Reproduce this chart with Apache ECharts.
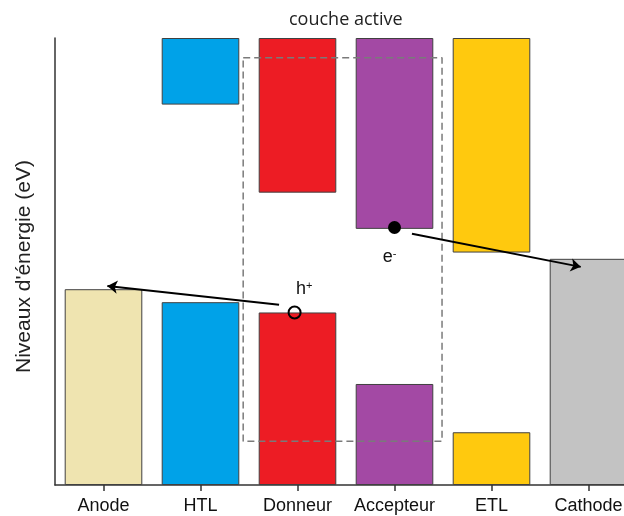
<!DOCTYPE html>
<html>
<head>
<meta charset="utf-8">
<script src="https://cdn.jsdelivr.net/npm/echarts@6/dist/echarts.min.js"></script>
<style>
html, body { margin: 0; padding: 0; background: #fff; }
#chart { width: 624px; height: 516px; }
</style>
</head>
<body>
<div id="chart"></div>
<script>
const categories = ['Anode', 'HTL', 'Donneur', 'Accepteur', 'ETL', 'Cathode'];
const colors = ['#EFE4B0', '#00A2E8', '#ED1C24', '#A349A4', '#FFC90E', '#C3C3C3'];
// niveau bas (HOMO / travail de sortie), en unités arbitraires
const niveauBas = [43.8, 40.9, 38.6, 22.6, 11.8, 50.6];
// niveau haut (LUMO) : la bande monte jusqu'en haut de l'axe
const niveauHaut = [null, 85.1, 65.4, 57.3, 52.0, null];
const yMax = 100;

// annotations, x en index de catégorie (0 = Anode)
const coucheActive = [[1.44, 95.6], [3.49, 95.6], [3.49, 9.8], [1.44, 9.8], [1.44, 95.6]];
const flecheTrou = [[1.81, 40.3], [0.04, 44.5]];
const flecheElectron = [[3.18, 56.2], [4.92, 48.8]];
const trou = [[1.97, 38.6]];
const electron = [[3.0, 57.6]];
const etiquettes = [
    { name: '{t|h}{s|+}', value: [2.07, 43.8] },
    { name: '{t|e}{s|-}', value: [2.95, 51.0] }
];

const myChart = echarts.init(document.getElementById('chart'));

const barColor = (p) => colors[p.dataIndex];

const option = {
    animation: false,
    title: {
        text: 'couche active',
        left: 284,
        top: 6,
        textStyle: {
            fontFamily: 'Open Sans',
            fontSize: 18,
            fontWeight: 'normal',
            color: '#222'
        }
    },
    grid: {
        left: 55,
        top: 38,
        width: 582,
        height: 447,
        outerBoundsMode: 'none'
    },
    xAxis: [
        {
            type: 'category',
            data: categories,
            axisLine: { show: true, lineStyle: { color: '#333', width: 1.5 } },
            axisTick: { show: true, alignWithLabel: true, interval: 0, length: 6, lineStyle: { color: '#333', width: 1.5 } },
            axisLabel: {
                interval: 0,
                fontFamily: 'Liberation Sans',
                fontSize: 18,
                color: '#111',
                margin: 12
            },
            splitLine: { show: false }
        },
        {
            type: 'value',
            min: -0.5,
            max: 5.5,
            show: false
        }
    ],
    yAxis: {
        type: 'value',
        min: 0,
        max: yMax,
        name: "Niveaux d'énergie (eV)",
        nameLocation: 'middle',
        nameGap: 20,
        nameTextStyle: {
            fontFamily: 'Liberation Sans',
            fontSize: 21,
            color: '#222',
            padding: [0, 10, 0, 0]
        },
        axisLine: { show: true, onZero: false, lineStyle: { color: '#333', width: 1.5 } },
        axisTick: { show: false },
        axisLabel: { show: false },
        splitLine: { show: false }
    },
    series: [
        {
            name: 'bas',
            type: 'bar',
            barCategoryGap: '20%',
            barGap: '-100%',
            itemStyle: { color: barColor, borderColor: '#404040', borderWidth: 1 },
            data: niveauBas
        },
        {
            name: 'base',
            type: 'bar',
            stack: 'haut',
            barGap: '-100%',
            itemStyle: { color: 'transparent' },
            data: niveauHaut
        },
        {
            name: 'haut',
            type: 'bar',
            stack: 'haut',
            barGap: '-100%',
            itemStyle: { color: barColor, borderColor: '#404040', borderWidth: 1 },
            data: niveauHaut.map(v => v == null ? null : yMax - v)
        },
        {
            name: 'couche active',
            type: 'line',
            xAxisIndex: 1,
            symbol: 'none',
            z: 5,
            lineStyle: { color: '#7a7a7a', width: 1.5, type: [7, 4] },
            data: coucheActive
        },
        {
            type: 'lines',
            coordinateSystem: 'cartesian2d',
            xAxisIndex: 1,
            z: 6,
            symbol: ['none', 'arrow'],
            symbolSize: [8, 10],
            lineStyle: { color: '#000', width: 2, opacity: 1 },
            data: [{ coords: flecheTrou }, { coords: flecheElectron }]
        },
        {
            name: 'trou',
            type: 'scatter',
            xAxisIndex: 1,
            z: 7,
            symbolSize: 12,
            itemStyle: { color: 'transparent', borderColor: '#000', borderWidth: 2, opacity: 1 },
            data: trou
        },
        {
            name: 'electron',
            type: 'scatter',
            xAxisIndex: 1,
            z: 7,
            symbolSize: 13,
            itemStyle: { color: '#000', opacity: 1 },
            data: electron
        },
        {
            name: 'etiquettes',
            type: 'scatter',
            xAxisIndex: 1,
            z: 8,
            symbolSize: 1,
            itemStyle: { color: 'transparent', opacity: 1 },
            label: {
                show: true,
                position: 'inside',
                formatter: '{b}',
                rich: {
                    t: { fontFamily: 'Liberation Sans', fontSize: 18, color: '#111' },
                    s: { fontFamily: 'Liberation Sans', fontSize: 11, color: '#111', verticalAlign: 'top' }
                }
            },
            data: etiquettes
        }
    ]
};

myChart.setOption(option);
</script>
</body>
</html>
